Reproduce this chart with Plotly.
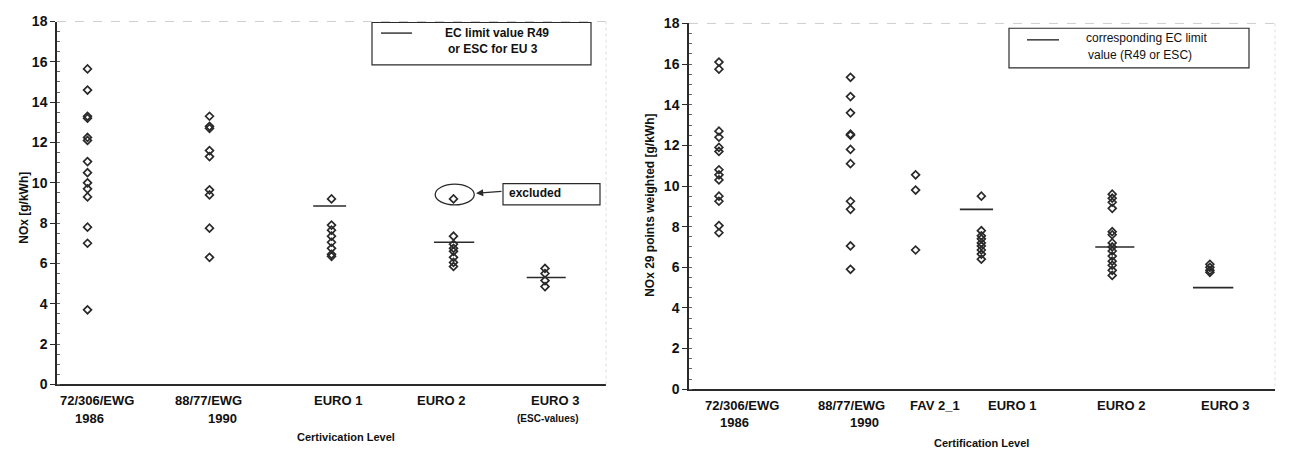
import plotly.graph_objects as go

# ---------------- data ----------------
# Left panel: NOx [g/kWh] per certification level
left_labels = ["72/306/EWG", "88/77/EWG", "EURO 1", "EURO 2", "EURO 3"]
nox_72_306 = [15.65, 14.6, 13.3, 13.2, 12.25, 12.1, 11.05, 10.5, 10.0, 9.7, 9.3, 7.8, 7.0, 3.7]
nox_88_77 = [13.3, 12.8, 12.7, 11.6, 11.3, 9.65, 9.4, 7.75, 6.3]
nox_euro1 = [9.2, 7.9, 7.65, 7.35, 7.05, 6.75, 6.45, 6.35]
nox_euro2 = [7.35, 6.95, 6.75, 6.6, 6.3, 6.05, 5.85]
nox_euro2_excluded = [9.2]
nox_euro3 = [5.75, 5.5, 5.15, 4.85]
left_limits = {"EURO 1": 8.85, "EURO 2": 7.05, "EURO 3": 5.3}

# Right panel: NOx 29 points weighted [g/kWh]
right_labels = ["72/306/EWG", "88/77/EWG", "FAV 2_1", "EURO 1", "EURO 2", "EURO 3"]
w_72_306 = [16.1, 15.75, 12.7, 12.4, 11.9, 11.7, 10.8, 10.55, 10.3, 9.5, 9.25, 8.05, 7.7]
w_88_77 = [15.35, 14.4, 13.6, 12.55, 12.5, 11.8, 11.1, 9.25, 8.85, 7.05, 5.9]
w_fav = [10.55, 9.8, 6.85]
w_euro1 = [9.5, 7.8, 7.55, 7.4, 7.2, 7.05, 6.85, 6.65, 6.4]
w_euro2 = [9.6, 9.4, 9.2, 8.9, 7.75, 7.6, 7.2, 7.0, 6.8, 6.55, 6.3, 6.1, 5.85, 5.6]
w_euro3 = [6.15, 6.0, 5.85, 5.75]
right_limits = {"EURO 1": 8.85, "EURO 2": 7.0, "EURO 3": 5.0}

# y tick values shared by both panels
y_ticks = [0, 2, 4, 6, 8, 10, 12, 14, 16, 18]

# ---------------- layout helpers ----------------
W, H = 1293, 458
FONT = "Arial, Liberation Sans, sans-serif"
INK = "#2a2a2a"
TXT = "#111111"

# column slot of each category on the numeric x axis (0..9)
left_slots = {"72/306/EWG": 0.5, "88/77/EWG": 2.5, "EURO 1": 4.5, "EURO 2": 6.5, "EURO 3": 8.0}
right_slots = {"72/306/EWG": 0.46, "88/77/EWG": 2.48, "FAV 2_1": 3.48,
               "EURO 1": 4.49, "EURO 2": 6.5, "EURO 3": 8.0}
left_limit_span = {"EURO 1": (4.2, 4.74), "EURO 2": (6.18, 6.84), "EURO 3": (7.7, 8.34)}
right_limit_span = {"EURO 1": (4.16, 4.67), "EURO 2": (6.24, 6.84), "EURO 3": (7.74, 8.36)}

# plot areas in pixels
L_X0, L_X1, L_Y0, L_Y1 = 57, 606, 14, 390
R_X0, R_X1, R_Y0, R_Y1 = 689, 1275, 16, 395


def px(x):
    return x / W


def py(y):
    return 1 - y / H


fig = go.Figure()

marker = dict(symbol="diamond-open", size=6, color=INK, line=dict(width=1.7, color=INK))


def add_points(label, values, slots, xa, ya):
    fig.add_trace(go.Scatter(
        x=[slots[label]] * len(values), y=values, mode="markers",
        marker=marker, xaxis=xa, yaxis=ya, showlegend=False, hoverinfo="y"))


left_series = [("72/306/EWG", nox_72_306), ("88/77/EWG", nox_88_77), ("EURO 1", nox_euro1),
               ("EURO 2", nox_euro2), ("EURO 2", nox_euro2_excluded), ("EURO 3", nox_euro3)]
for lab, vals in left_series:
    add_points(lab, vals, left_slots, "x", "y")

right_series = [("72/306/EWG", w_72_306), ("88/77/EWG", w_88_77), ("FAV 2_1", w_fav),
                ("EURO 1", w_euro1), ("EURO 2", w_euro2), ("EURO 3", w_euro3)]
for lab, vals in right_series:
    add_points(lab, vals, right_slots, "x2", "y2")

# EC limit values as short horizontal bars
for lab, val in left_limits.items():
    x0, x1 = left_limit_span[lab]
    fig.add_trace(go.Scatter(x=[x0, x1], y=[val, val], mode="lines",
                             line=dict(color=INK, width=1.6), xaxis="x", yaxis="y",
                             showlegend=False, hoverinfo="y"))
for lab, val in right_limits.items():
    x0, x1 = right_limit_span[lab]
    fig.add_trace(go.Scatter(x=[x0, x1], y=[val, val], mode="lines",
                             line=dict(color=INK, width=1.6), xaxis="x2", yaxis="y2",
                             showlegend=False, hoverinfo="y"))


def yaxis(domain, anchor):
    return dict(domain=domain, anchor=anchor, range=[0, 18],
                tickvals=y_ticks, ticktext=[f"<b>{v}</b>" for v in y_ticks],
                showgrid=False, zeroline=False, showline=True, linecolor=INK, linewidth=1.5,
                ticks="outside", ticklen=5, tickcolor=INK, tickwidth=1.2,
                tickfont=dict(family=FONT, size=14, color=TXT),
                minor=dict(tickvals=[v / 2 for v in range(37)], ticks="inside", ticklen=3,
                           tickcolor="#666", tickwidth=1))


def xaxis(domain, anchor):
    return dict(domain=domain, anchor=anchor, range=[0, 9],
                showgrid=False, zeroline=False, showline=True, linecolor=INK, linewidth=1.5,
                ticks="", showticklabels=False)


fig.update_layout(
    width=W, height=H, margin=dict(l=0, r=0, t=0, b=0),
    paper_bgcolor="white", plot_bgcolor="white", showlegend=False,
    font=dict(family=FONT, color=INK),
    xaxis=xaxis([px(L_X0), px(L_X1)], "y"),
    yaxis=yaxis([py(L_Y1), py(L_Y0)], "x"),
    xaxis2=xaxis([px(R_X0), px(R_X1)], "y2"),
    yaxis2=yaxis([py(R_Y1), py(R_Y0)], "x2"),
)

shapes = []
anns = []

# faint top/right frame of each plot area
for x0, x1, y0, y1 in [(L_X0, L_X1, L_Y0, L_Y1), (R_X0, R_X1, R_Y0, R_Y1)]:
    shapes.append(dict(type="line", xref="paper", yref="paper", x0=px(x0), x1=px(x1),
                       y0=py(y0), y1=py(y0), line=dict(color="#cfcfcf", width=1, dash="dash")))
    shapes.append(dict(type="line", xref="paper", yref="paper", x0=px(x1), x1=px(x1),
                       y0=py(y0), y1=py(y1), line=dict(color="#dedede", width=1, dash="dot")))


def text(x, y, s, size=13, bold=True, xanchor="center"):
    anns.append(dict(x=x, y=py(y), xref="paper", yref="paper", text=f"<b>{s}</b>" if bold else s,
                     showarrow=False, xanchor=xanchor, yanchor="middle",
                     font=dict(family=FONT, size=size, color=TXT)))


# category labels, left panel
text(px(97), 407, "72/306/EWG")
text(px(89), 425, "1986")
text(px(209), 407, "88/77/EWG")
text(px(222), 425, "1990")
text(px(338), 407, "EURO 1")
text(px(441), 407, "EURO 2")
text(px(555), 407, "EURO 3")
text(px(548), 425, "(ESC-values)", size=10)
text(px(346), 445, "Certivication Level", size=11)

# category labels, right panel
text(px(742), 412, "72/306/EWG")
text(px(734), 430, "1986")
text(px(851), 412, "88/77/EWG")
text(px(864), 430, "1990")
text(px(935), 412, "FAV 2_1")
text(px(1012), 412, "EURO 1")
text(px(1121), 412, "EURO 2")
text(px(1225), 412, "EURO 3")
text(px(981), 451, "Certification Level", size=11)

# y-axis titles
anns.append(dict(x=px(15), y=py(207), xref="paper", yref="paper", text="<b>NOx [g/kWh]</b>",
                 showarrow=False, textangle=-90, font=dict(family=FONT, size=12, color=TXT)))
anns.append(dict(x=px(650), y=py(205), xref="paper", yref="paper",
                 text="<b>NOx 29 points weighted [g/kWh]</b>",
                 showarrow=False, textangle=-90, font=dict(family=FONT, size=12, color=TXT)))

# legend box, left panel
shapes.append(dict(type="rect", xref="paper", yref="paper", x0=px(372), x1=px(591),
                   y0=py(59), y1=py(15), line=dict(color=INK, width=1.2), fillcolor="white"))
shapes.append(dict(type="line", xref="paper", yref="paper", x0=px(381), x1=px(412),
                   y0=py(26), y1=py(26), line=dict(color=INK, width=1.4)))
text(px(497), 26, "EC limit value R49", size=12)
text(px(493), 43, "or ESC for EU 3", size=12)

# legend box, right panel
shapes.append(dict(type="rect", xref="paper", yref="paper", x0=px(1009), x1=px(1249),
                   y0=py(62), y1=py(21), line=dict(color=INK, width=1.2), fillcolor="white"))
shapes.append(dict(type="line", xref="paper", yref="paper", x0=px(1027), x1=px(1059),
                   y0=py(33), y1=py(33), line=dict(color=INK, width=1.4)))
text(px(1146), 31, "corresponding EC limit", size=12, bold=False)
text(px(1140), 49, "value (R49 or ESC)", size=12, bold=False)

# excluded point: ellipse, call-out box and arrow
shapes.append(dict(type="circle", xref="x", yref="y", x0=6.2, x1=6.84, y0=8.9, y1=9.93,
                   line=dict(color=INK, width=1.3)))
shapes.append(dict(type="rect", xref="paper", yref="paper", x0=px(503), x1=px(600),
                   y0=py(204), y1=py(182), line=dict(color=INK, width=1.2), fillcolor="white"))
text(px(507), 192, "excluded", size=12, xanchor="left")
anns.append(dict(x=px(476), y=py(192), xref="paper", yref="paper",
                 ax=27, ay=-2, axref="pixel", ayref="pixel", text="",
                 showarrow=True, arrowhead=2, arrowsize=1.2, arrowwidth=1.2, arrowcolor=INK))

fig.update_layout(shapes=shapes, annotations=anns)
fig.write_html("out.html")
